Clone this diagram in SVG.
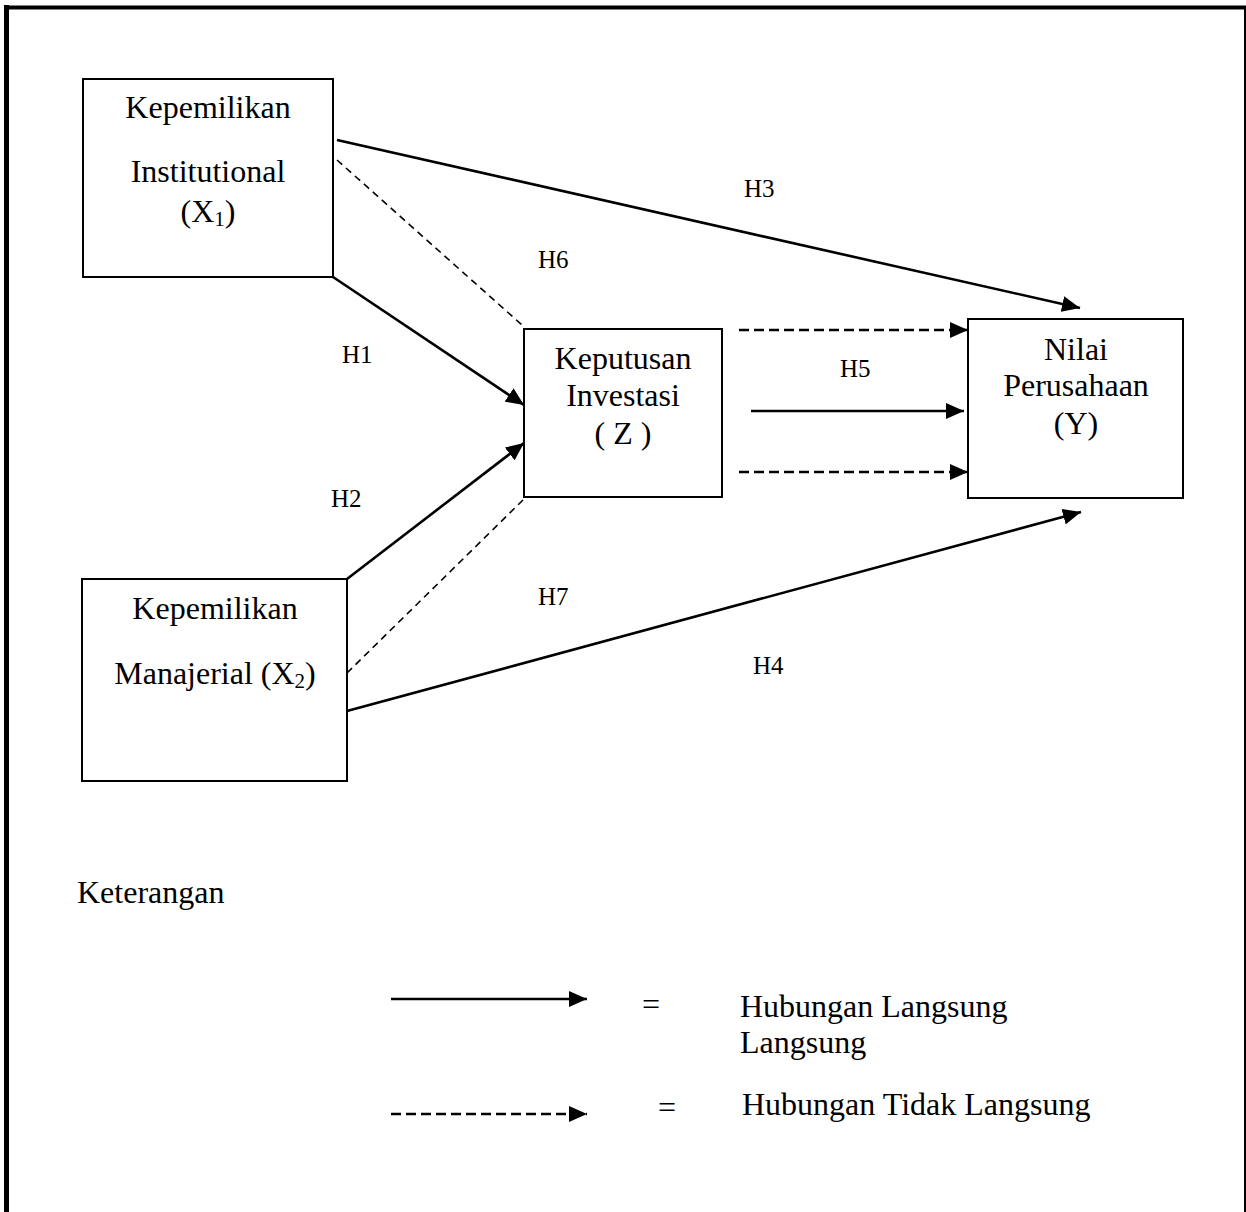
<svg xmlns="http://www.w3.org/2000/svg" width="1246" height="1212" viewBox="0 0 1246 1212">
<defs>
<marker id="ah" markerUnits="userSpaceOnUse" markerWidth="18" markerHeight="16" refX="18" refY="8" orient="auto">
<path d="M0,0 L18,8 L0,16 z" fill="#000"/>
</marker>
<style>
.box{fill:#fff;stroke:#000;stroke-width:2}
.t{font-family:"Liberation Serif","Times New Roman",serif;font-size:32px;fill:#000}
.m{text-anchor:middle}
.h{font-family:"Liberation Serif","Times New Roman",serif;font-size:25px;fill:#000}
.sol{fill:none;stroke:#000;stroke-width:2.6}
.dsh{fill:none;stroke:#000;stroke-width:2.6;stroke-dasharray:10 5}
.thin{fill:none;stroke:#000;stroke-width:1.6;stroke-dasharray:7 5}
</style>
</defs>
<rect width="1246" height="1212" fill="#fff"/>
<g id="frame" fill="none" stroke="#000">
<line x1="6.5" y1="5" x2="6.5" y2="1212" stroke-width="5"/>
<line x1="4" y1="7.5" x2="1246" y2="7.5" stroke-width="4"/>
<line x1="1245" y1="6" x2="1245" y2="1212" stroke-width="2"/>
</g>
<g id="connectors">
<line class="sol" x1="337" y1="140" x2="1080" y2="308" marker-end="url(#ah)"/>
<line class="thin" x1="337" y1="160" x2="522" y2="325"/>
<line class="sol" x1="333" y1="277" x2="524" y2="405" marker-end="url(#ah)"/>
<line class="sol" x1="347" y1="579" x2="524" y2="443" marker-end="url(#ah)"/>
<line class="thin" x1="347" y1="673" x2="523" y2="500"/>
<line class="sol" x1="347" y1="711" x2="1081" y2="512" marker-end="url(#ah)"/>
<line class="dsh" x1="739" y1="330" x2="968" y2="330" marker-end="url(#ah)"/>
<line class="sol" x1="751" y1="411" x2="964" y2="411" marker-end="url(#ah)"/>
<line class="dsh" x1="739" y1="472" x2="968" y2="472" marker-end="url(#ah)"/>
</g>
<g id="labels">
<text class="h" x="744" y="197">H3</text>
<text class="h" x="538" y="268">H6</text>
<text class="h" x="342" y="363">H1</text>
<text class="h" x="840" y="377">H5</text>
<text class="h" x="331" y="507">H2</text>
<text class="h" x="538" y="605">H7</text>
<text class="h" x="753" y="674">H4</text>
</g>
<g id="node-x1">
<rect class="box" x="83" y="79" width="250" height="198"/>
<text class="t m" x="208" y="118">Kepemilikan</text>
<text class="t m" x="208" y="182">Institutional</text>
<text class="t m" x="208" y="222">(X<tspan font-size="21" dy="4">1</tspan><tspan dy="-4">)</tspan></text>
</g>
<g id="node-z">
<rect class="box" x="524" y="329" width="198" height="168"/>
<text class="t m" x="623" y="369">Keputusan</text>
<text class="t m" x="623" y="406">Investasi</text>
<text class="t m" x="623" y="444">( Z )</text>
</g>
<g id="node-y">
<rect class="box" x="968" y="319" width="215" height="179"/>
<text class="t m" x="1076" y="360">Nilai</text>
<text class="t m" x="1076" y="396">Perusahaan</text>
<text class="t m" x="1076" y="434">(Y)</text>
</g>
<g id="node-x2">
<rect class="box" x="82" y="579" width="265" height="202"/>
<text class="t m" x="215" y="619">Kepemilikan</text>
<text class="t m" x="215" y="684">Manajerial (X<tspan font-size="21" dy="4">2</tspan><tspan dy="-4">)</tspan></text>
</g>
<g id="legend">
<text class="t" x="77" y="903">Keterangan</text>
<line class="sol" x1="391" y1="999" x2="587" y2="999" marker-end="url(#ah)"/>
<text class="t" x="642" y="1015">=</text>
<text class="t" x="740" y="1017">Hubungan Langsung</text>
<text class="t" x="740" y="1053">Langsung</text>
<line class="dsh" x1="391" y1="1114" x2="587" y2="1114" marker-end="url(#ah)"/>
<text class="t" x="658" y="1118">=</text>
<text class="t" x="742" y="1115">Hubungan Tidak Langsung</text>
</g>
</svg>
